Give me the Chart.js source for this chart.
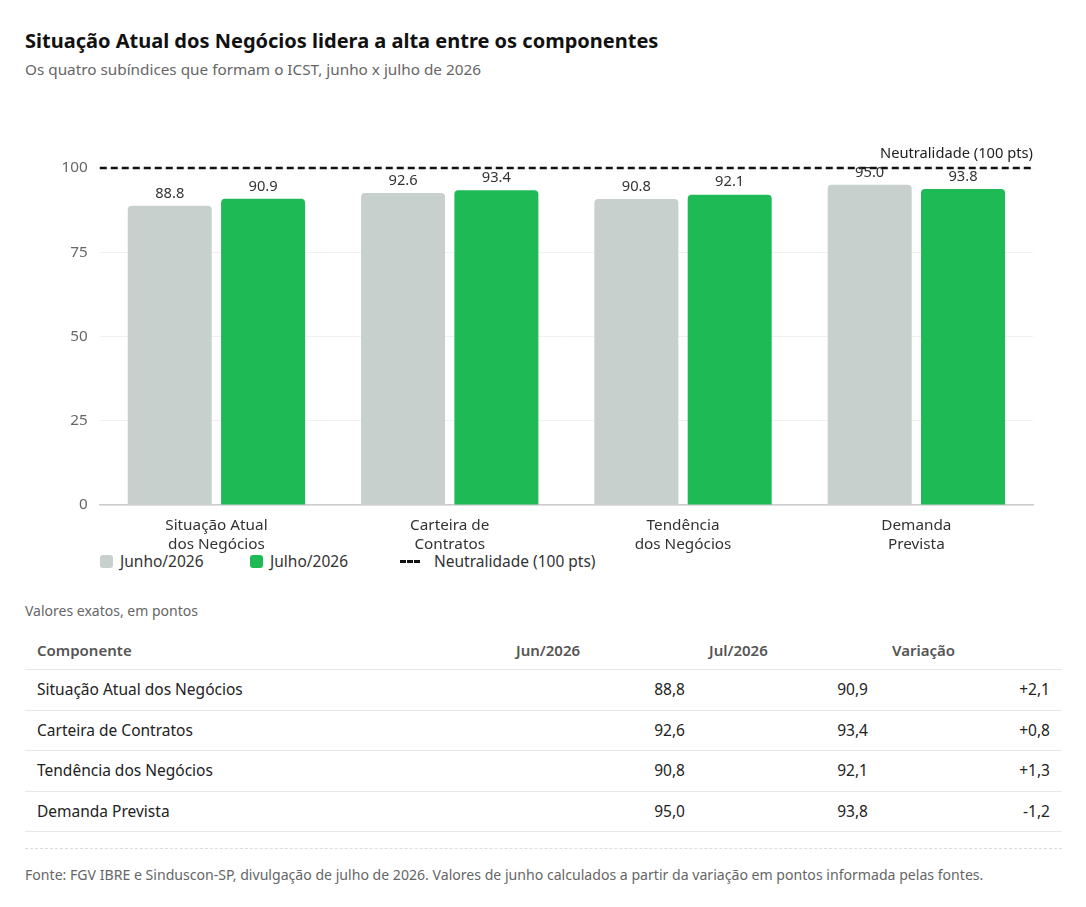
<!DOCTYPE html>
<html lang="pt-BR">
<head>
<meta charset="utf-8">
<title>ICST - componentes</title>
<script src="https://cdn.jsdelivr.net/npm/chart.js@4.4.1/dist/chart.umd.min.js"></script>
<style>
  body { margin: 0; background: #fff; font-family: 'Segoe UI', 'Noto Sans', sans-serif; color: #222; }
  .wrap { width: 1037px; padding: 28px 0 0 25px; }
  h1 { font-size: 20px; font-weight: 700; color: #111; margin: 0; line-height: 26px; }
  .sub { font-size: 15.3px; color: #666; margin: 5px 0 0; line-height: 20px; }
  .chart-box { position: relative; height: 447px; margin-top: 31px; }
  .legend { display: flex; margin: -5px 0 0 75px; font-size: 15.5px; color: #333; line-height: 18px; }
  .legend .item { display: flex; align-items: center; min-width: 150px; }
  .legend .swatch { width: 13px; height: 13px; border-radius: 3px; margin-right: 7px; }
  .legend .dash { width: 20px; height: 0; border-top: 3px dashed #111; margin-right: 14px; }
  .note { font-size: 14px; color: #666; margin: 32px 0 0; line-height: 18px; }
  table { width: 1037px; border-collapse: collapse; margin-top: 12px; font-size: 15.5px; }
  th { text-align: left; font-weight: 600; font-size: 15px; color: #555; padding: 8px 12px 9px; border-bottom: 1px solid #e8e8e8; }
  td { padding: 10px 12px; border-bottom: 1px solid #e8e8e8; color: #222; line-height: 19.5px; }
  td.num { text-align: right; }
  .foot { margin-top: 16px; border-top: 1px dashed #ddd; padding-top: 16px; font-size: 14.1px; color: #666; width: 1037px; }
</style>
</head>
<body>
<div class="wrap">
  <h1>Situação Atual dos Negócios lidera a alta entre os componentes</h1>
  <p class="sub">Os quatro subíndices que formam o ICST, junho x julho de 2026</p>
  <div class="chart-box"><canvas id="myChart"></canvas></div>
  <div class="legend" id="legend"></div>
  <p class="note">Valores exatos, em pontos</p>
  <table>
    <thead>
      <tr><th style="width:455px">Componente</th><th style="width:169px">Jun/2026</th><th style="width:159px">Jul/2026</th><th>Variação</th></tr>
    </thead>
    <tbody id="rows"></tbody>
  </table>
  <div class="foot">Fonte: FGV IBRE e Sinduscon-SP, divulgação de julho de 2026. Valores de junho calculados a partir da variação em pontos informada pelas fontes.</div>
</div>
<script>
const categories = [['Situação Atual', 'dos Negócios'], ['Carteira de', 'Contratos'], ['Tendência', 'dos Negócios'], ['Demanda', 'Prevista']];
const componentNames = ['Situação Atual dos Negócios', 'Carteira de Contratos', 'Tendência dos Negócios', 'Demanda Prevista'];
const junho = [88.8, 92.6, 90.8, 95.0];
const julho = [90.9, 93.4, 92.1, 93.8];
const variacao = [2.1, 0.8, 1.3, -1.2];
const neutralidade = 100;
const yTicks = [0, 25, 50, 75, 100];

const fontStack = "'Segoe UI', 'Noto Sans', sans-serif";
Chart.defaults.font.family = fontStack;
Chart.defaults.font.size = 15.3;

const neutralStyle = { label: 'Neutralidade (100 pts)', color: '#111', width: 2.5, dash: [7, 4] };

// linha de neutralidade em y = 100
const neutralPlugin = {
    id: 'neutralPlugin',
    beforeDatasetsDraw(chart) {
        const { ctx, chartArea } = chart;
        const y = chart.scales.y.getPixelForValue(neutralidade);
        ctx.save();
        ctx.strokeStyle = neutralStyle.color;
        ctx.lineWidth = neutralStyle.width;
        ctx.setLineDash(neutralStyle.dash);
        ctx.beginPath();
        ctx.moveTo(chartArea.left, y);
        ctx.lineTo(chartArea.right, y);
        ctx.stroke();
        ctx.restore();
    }
};

// valores acima das barras e rótulo da linha
const labelsPlugin = {
    id: 'labelsPlugin',
    afterDatasetsDraw(chart) {
        const ctx = chart.ctx;
        ctx.save();
        ctx.font = '14.7px ' + fontStack;
        ctx.fillStyle = '#333';
        ctx.textAlign = 'center';
        ctx.textBaseline = 'bottom';
        chart.data.datasets.forEach((ds, i) => {
            chart.getDatasetMeta(i).data.forEach((bar, j) => {
                ctx.fillText(ds.data[j].toFixed(1), bar.x, bar.y - 5);
            });
        });
        const y = chart.scales.y.getPixelForValue(neutralidade);
        ctx.fillStyle = '#222';
        ctx.textAlign = 'right';
        ctx.fillText(neutralStyle.label, chart.chartArea.right, y - 7);
        ctx.restore();
    }
};

const ctx = document.getElementById('myChart').getContext('2d');
const chart = new Chart(ctx, {
    type: 'bar',
    data: {
        labels: categories,
        datasets: [
            {
                label: 'Junho/2026',
                data: junho,
                backgroundColor: '#c8d0cd',
                borderRadius: 4,
            },
            {
                label: 'Julho/2026',
                data: julho,
                backgroundColor: '#1eba56',
                borderRadius: 4,
            },
        ],
    },
    options: {
        responsive: true,
        maintainAspectRatio: false,
        animation: false,
        layout: { padding: { top: 58, right: 29, left: 24.5, bottom: 0 } },
        plugins: {
            legend: { display: false },
            tooltip: { enabled: false },
        },
        scales: {
            x: {
                grid: { display: false },
                border: { color: '#cccccc', width: 1.5 },
                ticks: { color: '#333', padding: 3, font: { size: 15.3, lineHeight: 1.24 } },
            },
            y: {
                min: 0,
                max: 100,
                afterBuildTicks: axis => { axis.ticks = yTicks.map(v => ({ value: v })); },
                grid: { color: '#f0f0f0', drawTicks: false },
                border: { display: false },
                ticks: { color: '#666', padding: 12 },
            },
        },
    },
    plugins: [neutralPlugin, labelsPlugin],
});

// legenda
const legend = document.getElementById('legend');
const legendItems = chart.data.datasets.map(ds => ({ label: ds.label, color: ds.backgroundColor }));
legendItems.push({ label: neutralStyle.label, line: true });
legendItems.forEach(it => {
    const item = document.createElement('div');
    item.className = 'item';
    const mark = document.createElement('span');
    if (it.line) {
        mark.className = 'dash';
    } else {
        mark.className = 'swatch';
        mark.style.background = it.color;
    }
    item.appendChild(mark);
    item.appendChild(document.createTextNode(it.label));
    legend.appendChild(item);
});

// tabela
const fmt = v => v.toFixed(1).replace('.', ',');
const rows = document.getElementById('rows');
componentNames.forEach((name, i) => {
    const v = variacao[i];
    const tr = document.createElement('tr');
    tr.innerHTML = '<td>' + name + '</td><td class="num">' + fmt(junho[i]) + '</td><td class="num">' + fmt(julho[i]) +
        '</td><td class="num">' + (v > 0 ? '+' : '') + fmt(v) + '</td>';
    rows.appendChild(tr);
});
</script>
</body>
</html>
